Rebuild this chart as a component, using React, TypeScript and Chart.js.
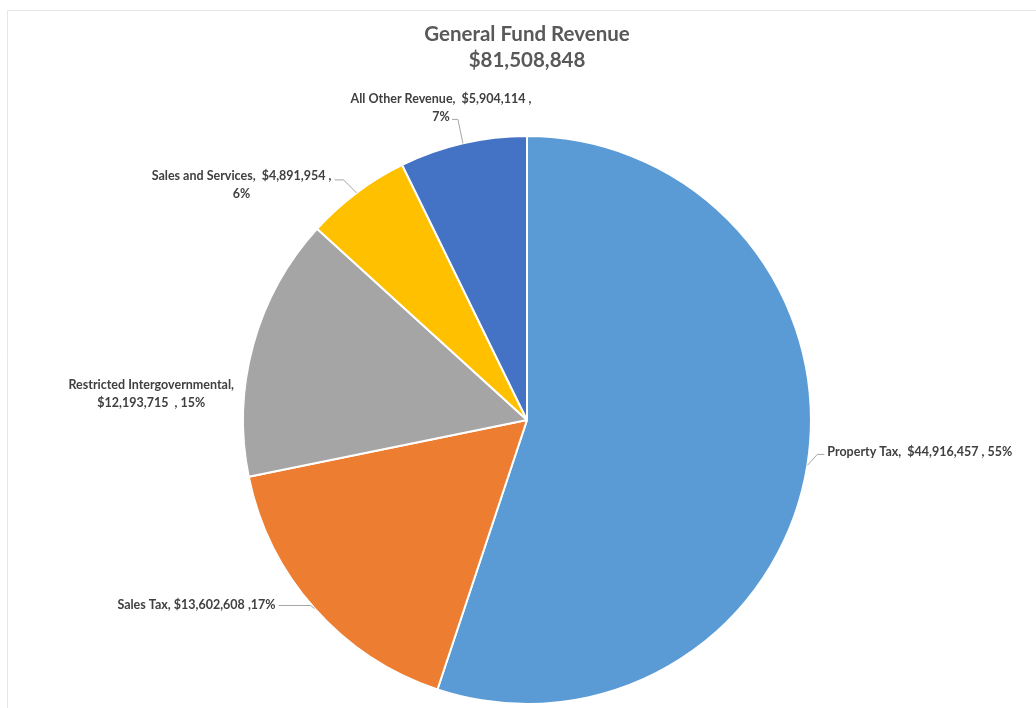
import React, { useEffect, useRef } from "react";
import { Chart, registerables } from "chart.js";

Chart.register(...registerables);

const categories = [
  "Property Tax",
  "Sales Tax",
  "Restricted Intergovernmental",
  "Sales and Services",
  "All Other Revenue",
];
const revenue = [44916457, 13602608, 12193715, 4891954, 5904114];
const sliceColors = ["#5B9BD5", "#ED7D31", "#A5A5A5", "#FFC000", "#4472C4"];
const titleLines = ["General Fund Revenue", "$81,508,848"];

// How each label's text is split into lines
const labelBreaks = ["none", "none", "afterName", "beforePct", "beforePct"];

// Label placement relative to the slice's outer edge midpoint (layout only)
const labelLayout = [
  { dx: 20, dy: -13, align: "left", leader: [[10, -11], [17, -11]] },
  { dx: -39, dy: -4, align: "right", leader: [[-4, -3], [-36, -3]] },
  { dx: -102, dy: 40, align: "center", leader: [] },
  { dx: -115, dy: -17, align: "center", leader: [[-13, -13], [-22, -13]] },
  { dx: -22, dy: -44, align: "center", leader: [[-5, -24], [-11, -24]] },
];

const FONT = "Lato, 'Open Sans', sans-serif";

const fmtMoney = (v: number) => "$" + v.toLocaleString("en-US");

function labelLines(i: number, total: number): string[] {
  const name = categories[i];
  const money = fmtMoney(revenue[i]);
  const pct = Math.round((revenue[i] / total) * 100) + "%";
  switch (labelBreaks[i]) {
    case "afterName":
      return [name + ",", money + "  , " + pct];
    case "beforePct":
      return [name + ",  " + money + " ,", pct];
    default:
      if (i === 1) return [name + ", " + money + " ," + pct];
      return [name + ",  " + money + " , " + pct];
  }
}

const labelPlugin = {
  id: "sliceLabels",
  afterDatasetsDraw(chart: any) {
    const ctx = chart.ctx;
    const meta = chart.getDatasetMeta(0);
    const total = revenue.reduce((a, b) => a + b, 0);
    ctx.save();
    meta.data.forEach((arc: any, i: number) => {
      const p = arc.getProps(["x", "y", "startAngle", "endAngle", "outerRadius"], true);
      const mid = (p.startAngle + p.endAngle) / 2;
      const ex = p.x + Math.cos(mid) * p.outerRadius;
      const ey = p.y + Math.sin(mid) * p.outerRadius;
      const lay = labelLayout[i];
      if (lay.leader.length) {
        ctx.strokeStyle = "#A6A6A6";
        ctx.lineWidth = 1;
        ctx.beginPath();
        ctx.moveTo(ex, ey);
        lay.leader.forEach((pt: number[]) => ctx.lineTo(ex + pt[0], ey + pt[1]));
        ctx.stroke();
      }
      ctx.fillStyle = "#404040";
      ctx.font = "bold 12.5px " + FONT;
      ctx.textAlign = lay.align;
      ctx.textBaseline = "middle";
      const lines = labelLines(i, total);
      lines.forEach((ln, k) => {
        ctx.fillText(ln, ex + lay.dx, ey + lay.dy + k * 18);
      });
    });
    ctx.restore();
  },
};

const framePlugin = {
  id: "frame",
  beforeDraw(chart: any) {
    const ctx = chart.ctx;
    ctx.save();
    ctx.fillStyle = "#ffffff";
    ctx.fillRect(0, 0, chart.width, chart.height);
    ctx.strokeStyle = "#E6E6E6";
    ctx.lineWidth = 1;
    ctx.beginPath();
    ctx.moveTo(7.5, chart.height);
    ctx.lineTo(7.5, 10.5);
    ctx.lineTo(chart.width, 10.5);
    ctx.stroke();
    ctx.restore();
  },
};

export default function App() {
  const ref = useRef<HTMLCanvasElement>(null);
  useEffect(() => {
    if (!ref.current) return;
    const chart = new Chart(ref.current, {
      type: "pie",
      data: {
        labels: categories,
        datasets: [
          {
            data: revenue,
            backgroundColor: sliceColors,
            borderColor: "#ffffff",
            borderWidth: 2,
          },
        ],
      },
      options: {
        responsive: false,
        animation: false,
        layout: { padding: { left: 242, right: 224, top: 0, bottom: 3 } },
        plugins: {
          legend: { display: false },
          tooltip: { enabled: false },
          title: {
            display: true,
            text: titleLines,
            color: "#595959",
            font: { family: FONT, size: 20.5, weight: "bold", lineHeight: 1.27 },
            padding: { top: 21, bottom: 62 },
          },
        },
      },
      plugins: [framePlugin, labelPlugin],
    });
    return () => chart.destroy();
  }, []);
  return (
    <div style={{ position: "fixed", left: 0, top: 0, width: 1036, height: 708, background: "#fff" }}>
      <canvas ref={ref} width={1036} height={708} style={{ display: "block" }} />
    </div>
  );
}
